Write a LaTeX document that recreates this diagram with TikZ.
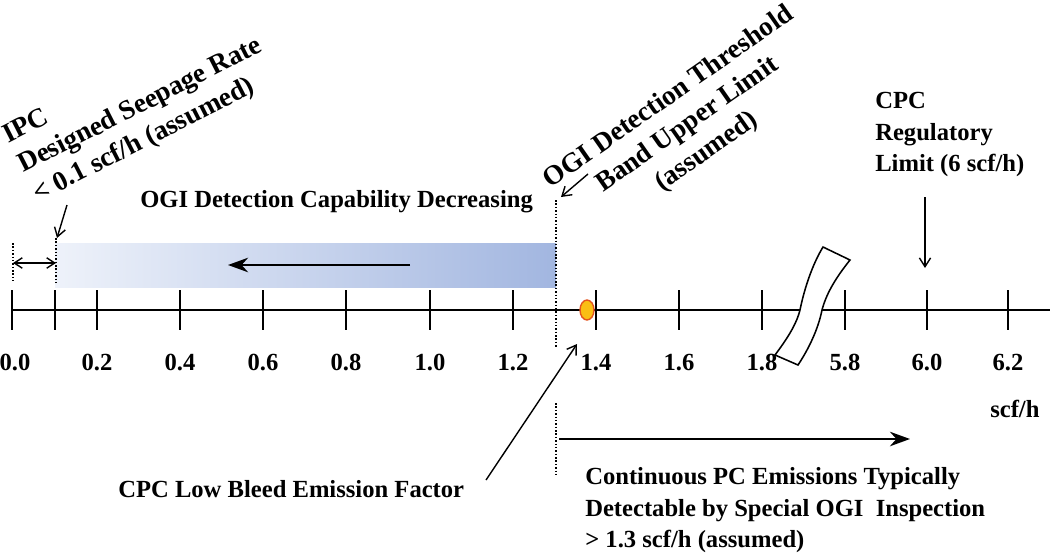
\documentclass[tikz,border=0pt]{standalone}
\usepackage{fontspec}
\setmainfont{Liberation Serif}
\usepackage{tikz}
\usetikzlibrary{positioning,arrows.meta}
\definecolor{bandaizq}{RGB}{238,242,250}
\definecolor{bandader}{RGB}{162,182,224}
\definecolor{puntorelleno}{RGB}{250,190,20}
\definecolor{puntoborde}{RGB}{228,84,30}

\begin{document}
\begin{tikzpicture}[x=0.025cm, y=0.025cm,
  rotulo/.style={font=\bfseries\fontsize{17.5}{22.5}\selectfont, inner sep=0pt},
  inclinado/.style={font=\bfseries\fontsize{19.5}{23.5}\selectfont, inner sep=0pt},
  eje/.style={line width=1.3pt},
  punteado/.style={line width=1.1pt, dash pattern=on 1.1pt off 1.3pt},
  flechafina/.style={-{Straight Barb[length=2.2mm, width=2.8mm]}, line width=1pt},
  flechadoble/.style={{Straight Barb[length=2mm, width=2.6mm]}-{Straight Barb[length=2mm, width=2.6mm]}, line width=1pt},
  flechagruesa/.style={-{Stealth[length=5mm, width=3.6mm, inset=1.6mm]}, line width=2pt}]
  \useasboundingbox (0,0) rectangle (1050,-552);

  % banda de capacidad de deteccion
  \shade[left color=bandaizq, right color=bandader] (55,-243) rectangle (556,-287);

  % eje y marcas
  \coordinate (ejeizq) at (12,-310);
  \coordinate (ejeder) at (1050,-310);
  \draw[eje] (ejeizq) -- (ejeder);
  \draw[eje] (55,-290) -- (55,-330);
  \foreach \x/\valor [count=\i] in {12/0.0, 97/0.2, 180/0.4, 263/0.6, 346/0.8,
      430/1.0, 513/1.2, 596/1.4, 679/1.6, 762/1.8, 845/5.8, 927/6.0, 1008/6.2} {
    \draw[eje] (\x,-290) -- (\x,-330);
  }
  \foreach \x/\valor [count=\i] in {15/0.0, 97/0.2, 180/0.4, 263/0.6, 346/0.8,
      430/1.0, 513/1.2, 596/1.4, 679/1.6, 762/1.8, 845/5.8, 927/6.0, 1008/6.2} {
    \node[rotulo, anchor=base] (m\i) at (\x,-370) {\valor};
  }

  % corte del eje
  \draw[line width=1.1pt, fill=white] (823,-247) -- (850,-260)
    .. controls (834,-280) and (826,-295) .. (822,-310)
    .. controls (818,-330) and (808,-350) .. (798,-365) -- (775,-355)
    .. controls (790,-335) and (797,-322) .. (800,-310)
    .. controls (804,-290) and (812,-265) .. (823,-247) -- cycle;

  % factor de emision
  \filldraw[draw=puntoborde, fill=puntorelleno, line width=1pt] (587,-310) ellipse [x radius=7, y radius=10];

  % lineas punteadas
  \coordinate (cero1) at (13,-243);  \coordinate (cero2) at (13,-281);
  \coordinate (ipc1) at (56,-238);   \coordinate (ipc2) at (56,-284);
  \coordinate (umbral1) at (556,-200); \coordinate (umbral2) at (556,-348);
  \coordinate (cont1) at (556,-403); \coordinate (cont2) at (556,-477);
  \draw[punteado] (cero1) -- (cero2);
  \draw[punteado] (ipc1) -- (ipc2);
  \draw[punteado] (umbral1) -- (umbral2);
  \draw[punteado] (cont1) -- (cont2);

  % textos
  \node[rotulo, anchor=base west] (capacidad) at (140,-207) {OGI Detection Capability Decreasing};
  \node[inclinado, rotate=27, anchor=south west, align=left] (ipc) at (41,-208)
       {IPC\\Designed Seepage Rate\\< 0.1 scf/h (assumed)};
  \node[inclinado, rotate=35, align=center] (umbral) at (688,-125)
       {OGI Detection Threshold\\Band Upper Limit\\(assumed)};
  \node[rotulo, anchor=north west, align=left] (cpc) at (875,-92)
       {CPC\\Regulatory\\Limit (6 scf/h)};
  \node[rotulo, anchor=base west] (unidad) at (990,-417) {scf/h};
  \node[rotulo, anchor=base west] (bajaemision) at (118,-497) {CPC Low Bleed Emission Factor};
  \node[rotulo, anchor=north west, align=left] (continuas) at (585,-467)
       {Continuous PC Emissions Typically\\Detectable by Special OGI\ \ Inspection\\> 1.3 scf/h (assumed)};

  % flechas
  \coordinate (ipccola) at (67,-205);     \coordinate (ipcpunta) at (57,-238);
  \coordinate (umbralcola) at (588,-174); \coordinate (umbralpunta) at (561,-197);
  \coordinate (cpccola) at (925,-197);    \coordinate (cpcpunta) at (925,-268);
  \coordinate (bajacola) at (486,-480);   \coordinate (bajapunta) at (577,-344);
  \coordinate (bandacola) at (410,-265);  \coordinate (bandapunta) at (228,-265);
  \coordinate (contcola) at (559,-439);   \coordinate (contpunta) at (910,-439);
  \draw[flechafina] (ipccola) -- (ipcpunta);
  \draw[flechafina] (umbralcola) -- (umbralpunta);
  \draw[flechafina] (cpccola) -- (cpcpunta);
  \draw[flechafina] (bajacola) -- (bajapunta);
  \draw[flechadoble] (13,-263) -- (56,-263);
  \draw[flechagruesa] (bandacola) -- (bandapunta);
  \draw[flechagruesa] (contcola) -- (contpunta);
\end{tikzpicture}
\end{document}
